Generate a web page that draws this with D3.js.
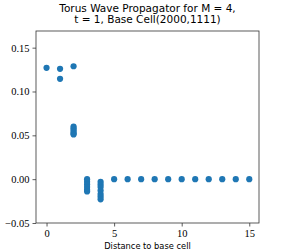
<!DOCTYPE html>
<html>
<head>
<meta charset="utf-8">
<script src="https://cdn.jsdelivr.net/npm/d3@7"></script>
<style>
  body { margin: 0; background: #fff; }
  svg text { fill: #000; }
</style>
</head>
<body>
<svg id="chart" width="288" height="252"></svg>
<script>
// propagator values grouped by distance to the base cell
const distances = [0, 1, 1, 2, 2, 2, 2, 2, 2, 2,
  3, 3, 3, 3, 3, 3, 4, 4, 4, 4, 4, 4, 4,
  5, 6, 7, 8, 9, 10, 11, 12, 13, 14, 15];
const values = [0.127, 0.1258, 0.1144, 0.1288, 0.060, 0.058, 0.056, 0.054, 0.052, 0.051,
  0.000, -0.003, -0.006, -0.009, -0.012, -0.014, -0.003, -0.006, -0.009, -0.013, -0.017, -0.020, -0.023,
  0, 0, 0, 0, 0, 0, 0, 0, 0, 0, 0];
const xTicks = [0, 5, 10, 15];
const yTicks = [-0.05, 0.00, 0.05, 0.10, 0.15];
const titleLines = ["Torus Wave Propagator for M = 4,", "t = 1, Base Cell(2000,1111)"];
const xLabel = "Distance to base cell";

const svg = d3.select('#chart');
const m = { left: 36, right: 259, top: 31, bottom: 223 };

const x = d3.scaleLinear().domain([-0.78, 15.72]).range([m.left, m.right]);
const y = d3.scaleLinear().domain([-0.05, 0.169]).range([m.bottom, m.top]);

// points
svg.append('g').selectAll('circle')
  .data(distances.map((d, i) => [d, values[i]]))
  .join('circle')
  .attr('cx', d => x(d[0]))
  .attr('cy', d => y(d[1]))
  .attr('r', 3.1)
  .attr('fill', '#1f77b4');

// frame
svg.append('rect')
  .attr('x', m.left).attr('y', m.top)
  .attr('width', m.right - m.left).attr('height', m.bottom - m.top)
  .attr('fill', 'none').attr('stroke', '#333').attr('stroke-width', 0.8);

const tickFont = '"Liberation Serif", "DejaVu Serif", serif';

const xAxis = svg.append('g')
  .attr('transform', `translate(0,${m.bottom})`)
  .call(d3.axisBottom(x).tickValues(xTicks).tickSize(3.5).tickPadding(3).tickFormat(d3.format('d')));
const yAxis = svg.append('g')
  .attr('transform', `translate(${m.left},0)`)
  .call(d3.axisLeft(y).tickValues(yTicks).tickSize(3.5).tickPadding(3)
    .tickFormat(d => (d < 0 ? '\u2212' : '') + Math.abs(d).toFixed(2)));

[xAxis, yAxis].forEach(a => {
  a.select('.domain').remove();
  a.selectAll('line').attr('stroke', '#333').attr('stroke-width', 0.8);
  a.selectAll('text').attr('font-family', tickFont).attr('font-size', 10.5).attr('fill', '#000');
});

// title
svg.append('g').selectAll('text')
  .data(titleLines)
  .join('text')
  .attr('x', (m.left + m.right) / 2)
  .attr('y', (d, i) => 11.5 + i * 11.5)
  .attr('text-anchor', 'middle')
  .attr('font-family', '"DejaVu Sans", sans-serif')
  .attr('font-size', 10.5)
  .text(d => d);

svg.append('text')
  .attr('x', (m.left + m.right) / 2)
  .attr('y', 249)
  .attr('text-anchor', 'middle')
  .attr('font-family', '"DejaVu Sans", sans-serif')
  .attr('font-size', 8.3)
  .text(xLabel);
</script>
</body>
</html>
